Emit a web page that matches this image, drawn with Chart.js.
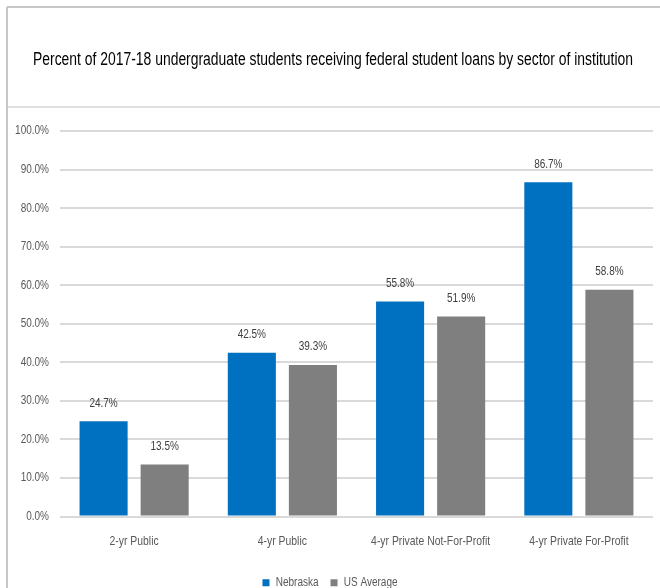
<!DOCTYPE html>
<html>
<head>
<meta charset="utf-8">
<script src="https://cdn.jsdelivr.net/npm/chart.js@4/dist/chart.umd.min.js"></script>
<style>
html,body{margin:0;padding:0;background:#fff;}
#wrap{width:660px;height:588px;position:relative;}
</style>
</head>
<body>
<div id="wrap"><canvas id="c" width="660" height="588"></canvas></div>
<script>
const titleText = 'Percent of 2017-18 undergraduate students receiving federal student loans by sector of institution';
const categories = ['2-yr Public', '4-yr Public', '4-yr Private Not-For-Profit', '4-yr Private For-Profit'];
const nebraska = [24.7, 42.5, 55.8, 86.7];
const usAverage = [13.5, 39.3, 51.9, 58.8];
const seriesNames = ['Nebraska', 'US Average'];
const yTicks = [0, 10, 20, 30, 40, 50, 60, 70, 80, 90, 100];

const FAM = "'Liberation Sans', Arial, sans-serif";

// Emulate a narrow (Arial Narrow-like) face: draw and measure text condensed horizontally.
const canvas = document.getElementById('c');
const ctx0 = canvas.getContext('2d');
const SQ = 0.8;
const origFill = ctx0.fillText.bind(ctx0);
const origMeasure = ctx0.measureText.bind(ctx0);
ctx0.fillText = function (text, x, y, maxWidth) {
  this.save();
  this.translate(x, y);
  this.scale(SQ, 1);
  if (maxWidth !== undefined && maxWidth !== null) origFill(text, 0, 0, maxWidth / SQ);
  else origFill(text, 0, 0);
  this.restore();
};
ctx0.measureText = function (text) {
  const m = origMeasure(text);
  return {
    width: m.width * SQ,
    actualBoundingBoxAscent: m.actualBoundingBoxAscent,
    actualBoundingBoxDescent: m.actualBoundingBoxDescent,
    actualBoundingBoxLeft: m.actualBoundingBoxLeft * SQ,
    actualBoundingBoxRight: m.actualBoundingBoxRight * SQ
  };
};

const framePlugin = {
  id: 'frame',
  beforeDraw(chart) {
    const ctx = chart.ctx;
    ctx.save();
    ctx.fillStyle = '#ffffff';
    ctx.fillRect(0, 0, chart.width, chart.height);
    ctx.strokeStyle = '#c6c6c6';
    ctx.lineWidth = 2;
    ctx.beginPath();
    ctx.moveTo(7, 7); ctx.lineTo(chart.width, 7);
    ctx.moveTo(7, 7); ctx.lineTo(7, chart.height);
    ctx.stroke();
    ctx.strokeStyle = '#e0e0e0';
    ctx.beginPath();
    ctx.moveTo(8, 107); ctx.lineTo(chart.width, 107);
    ctx.stroke();
    // chart title
    ctx.font = '17.5px ' + FAM;
    ctx.fillStyle = '#000000';
    ctx.textAlign = 'center';
    ctx.textBaseline = 'middle';
    ctx.fillText(titleText, 333, 60, 600);
    ctx.restore();
  }
};

const labelPlugin = {
  id: 'valueLabels',
  afterDatasetsDraw(chart) {
    const ctx = chart.ctx;
    ctx.save();
    ctx.font = '12.5px ' + FAM;
    ctx.fillStyle = '#404040';
    ctx.textAlign = 'center';
    ctx.textBaseline = 'middle';
    chart.data.datasets.forEach((ds, i) => {
      const meta = chart.getDatasetMeta(i);
      meta.data.forEach((bar, j) => {
        ctx.fillText(ds.data[j].toFixed(1) + '%', bar.x, bar.y - 18);
      });
    });
    ctx.restore();
  }
};

new Chart(canvas, {
  type: 'bar',
  data: {
    labels: categories,
    datasets: [
      { label: seriesNames[0], data: nebraska, backgroundColor: '#0070C0', categoryPercentage: 0.824, barPercentage: 0.787 },
      { label: seriesNames[1], data: usAverage, backgroundColor: '#7F7F7F', categoryPercentage: 0.824, barPercentage: 0.787 }
    ]
  },
  options: {
    responsive: false,
    animation: false,
    devicePixelRatio: 1,
    layout: { padding: { left: 7, right: 7, top: 131, bottom: -11 } },
    plugins: {
      title: { display: false },
      legend: {
        position: 'bottom',
        labels: {
          color: '#595959',
          font: { family: FAM, size: 12.5 },
          boxWidth: 7, boxHeight: 7,
          padding: 12
        }
      },
      tooltip: { enabled: false }
    },
    scales: {
      x: {
        grid: { display: false },
        border: { display: false },
        afterFit(scale) { scale.height = 48; },
        ticks: { color: '#595959', font: { family: FAM, size: 13 }, padding: 9, maxRotation: 0, minRotation: 0, autoSkip: false }
      },
      y: {
        min: 0, max: 100,
        afterBuildTicks(scale) { scale.ticks = yTicks.map(v => ({ value: v })); },
        afterFit(scale) { scale.width = 53; },
        grid: { color: '#d9d9d9', lineWidth: 2, drawTicks: false },
        border: { display: false },
        ticks: {
          color: '#595959', font: { family: FAM, size: 12.5 }, padding: 11,
          callback: v => v.toFixed(1) + '%'
        }
      }
    }
  },
  plugins: [framePlugin, labelPlugin]
});
</script>
</body>
</html>
